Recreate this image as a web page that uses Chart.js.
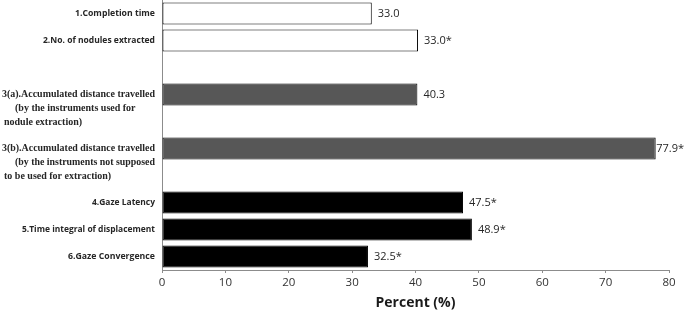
<!DOCTYPE html>
<html>
<head>
<meta charset="utf-8">
<script src="https://cdn.jsdelivr.net/npm/chart.js@4/dist/chart.umd.min.js"></script>
<style>
  html, body { margin: 0; padding: 0; background: #fff; }
  #wrap { width: 685px; height: 315px; }
</style>
</head>
<body>
<div id="wrap"><canvas id="chart"></canvas></div>
<script>
// --- Data (one slot per row, gaps are empty rows) ---
const categoryLines = [
    ['1.Completion time'],
    ['2.No. of nodules extracted'],
    [],
    ['3(a).Accumulated distance travelled', '(by the instruments used for', 'nodule extraction)'],
    [],
    ['3(b).Accumulated distance travelled', '(by the instruments not supposed', 'to be used for extraction)'],
    [],
    ['4.Gaze Latency'],
    ['5.Time integral of displacement'],
    ['6.Gaze Convergence']
];
const percentValues = [33.1, 40.4, null, 40.3, null, 77.9, null, 47.5, 48.9, 32.5];
const valueLabels = ['33.0', '33.0*', '', '40.3', '', '77.9*', '', '47.5*', '48.9*', '32.5*'];
const measureGroup = ['time', 'time', null, 'distance', null, 'distance', null, 'gaze', 'gaze', 'gaze'];
const xTicks = [0, 10, 20, 30, 40, 50, 60, 70, 80];

// --- Styles ---
const groupFill = { time: '#ffffff', distance: '#575757', gaze: '#000000' };
const AXIS_GRAY = '#8c8c8c';
const TEXT = '#262626';
const LABEL_RIGHT = 155;
const CONT_LINE_X = [0, 15, 4];   // x of wrapped lines
const LABEL_MAX_W = [80, 112, 0, 153, 0, 153, 0, 63, 133, 87];

// Category text + value labels drawn next to the bars
const labelPlugin = {
    id: 'rowLabels',
    afterDatasetsDraw(chart) {
        const { ctx } = chart;
        const yScale = chart.scales.y;
        const meta = chart.getDatasetMeta(0);
        ctx.save();
        ctx.textBaseline = 'middle';
        ctx.fillStyle = TEXT;

        categoryLines.forEach((lines, i) => {
            if (!lines.length) return;
            const y = yScale.getPixelForValue(i);
            if (lines.length === 1) {
                ctx.font = 'bold 9.5px "Open Sans"';
                ctx.textAlign = 'right';
                ctx.fillText(lines[0], LABEL_RIGHT, y, LABEL_MAX_W[i]);
            } else {
                ctx.font = 'bold 10px "Liberation Serif"';
                ctx.textAlign = 'right';
                ctx.fillText(lines[0], LABEL_RIGHT, y, LABEL_MAX_W[i]);
                ctx.textAlign = 'left';
                for (let k = 1; k < lines.length; k++) {
                    ctx.fillText(lines[k], CONT_LINE_X[k], y + k * 14, LABEL_RIGHT - CONT_LINE_X[k]);
                }
            }
        });

        ctx.font = '11px "Open Sans"';
        ctx.textAlign = 'left';
        meta.data.forEach((bar, i) => {
            if (percentValues[i] === null) return;
            const txt = valueLabels[i];
            const w = ctx.measureText(txt).width;
            const x = Math.min(bar.x + 6, chart.width - w - 1);
            ctx.fillText(txt, x, bar.y);
        });
        ctx.restore();
    }
};

new Chart(document.getElementById('chart'), {
    type: 'bar',
    data: {
        labels: categoryLines.map(l => l[0] || ''),
        datasets: [{
            data: percentValues,
            backgroundColor: measureGroup.map(g => g ? groupFill[g] : 'transparent'),
            borderColor: '#000000',
            borderWidth: 1,
            borderSkipped: false,
            barPercentage: 0.82,
            categoryPercentage: 1.0
        }]
    },
    options: {
        indexAxis: 'y',
        responsive: true,
        maintainAspectRatio: false,
        animation: false,
        layout: { padding: { left: 0, right: 16, top: 0, bottom: 0 } },
        plugins: {
            legend: { display: false },
            tooltip: { enabled: false }
        },
        scales: {
            x: {
                type: 'linear',
                min: 0,
                max: 80,
                afterBuildTicks: (s) => { s.ticks = xTicks.map(v => ({ value: v })); },
                afterFit: (s) => { s.height = 45; },
                grid: { drawOnChartArea: false, drawTicks: true, tickLength: 3, color: AXIS_GRAY },
                border: { display: true, color: AXIS_GRAY, width: 1 },
                ticks: { padding: 3, color: '#333', font: { family: '"Open Sans"', size: 11.5 } },
                title: {
                    display: true,
                    text: 'Percent (%)',
                    color: '#1a1a1a',
                    font: { family: '"Open Sans"', size: 14, weight: 'bold' },
                    padding: { top: 0, bottom: 4 }
                }
            },
            y: {
                afterFit: (s) => { s.width = 162; },
                grid: { drawOnChartArea: false, drawTicks: false },
                border: { display: true, color: AXIS_GRAY, width: 1 },
                ticks: { display: false }
            }
        }
    },
    plugins: [labelPlugin]
});
</script>
</body>
</html>
